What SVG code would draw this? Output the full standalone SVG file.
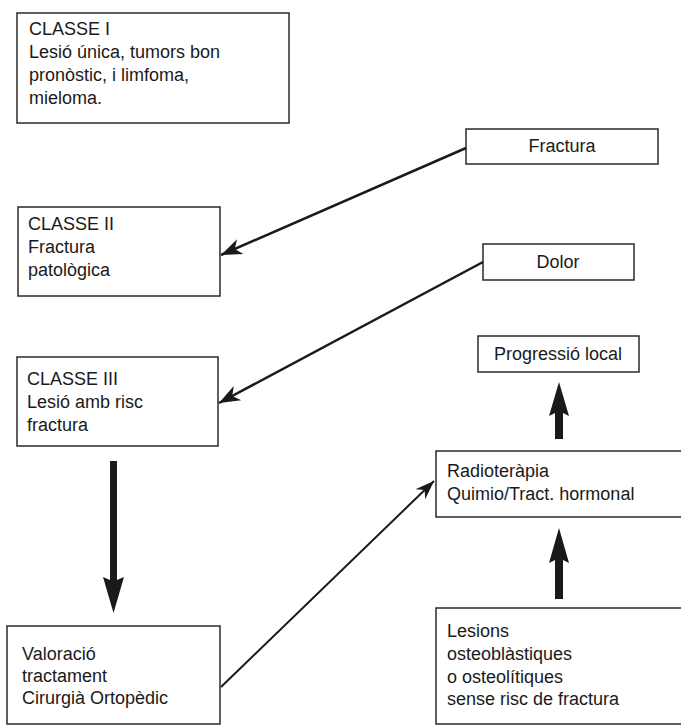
<svg xmlns="http://www.w3.org/2000/svg" width="681" height="726" viewBox="0 0 681 726">
<defs>
<style>
.box{fill:#fff;stroke:#2a2a2a;stroke-width:1.5}
.t{font-family:"Liberation Sans",Arial,sans-serif;font-size:18px;fill:#1a1a1a}
.c{text-anchor:middle}
.ln{stroke:#1a1a1a;stroke-width:2.5;fill:none}
.thin{stroke:#1a1a1a;stroke-width:2;fill:none}
.fat{fill:#1a1a1a}
</style>
<marker id="barb" markerUnits="userSpaceOnUse" viewBox="-22 -9 24 18" refX="0" refY="0" markerWidth="24" markerHeight="18" orient="auto">
<path d="M0,0 L-21,-8 L-15,0 L-21,8 Z" fill="#1a1a1a"/>
</marker>
<marker id="barbS" markerUnits="userSpaceOnUse" viewBox="-20 -8 22 16" refX="0" refY="0" markerWidth="22" markerHeight="16" orient="auto">
<path d="M0,0 L-19,-7 L-13,0 L-19,7 Z" fill="#1a1a1a"/>
</marker>
</defs>
<rect width="681" height="726" fill="#fff"/>

<g id="classe1">
<rect class="box" x="17" y="13" width="272" height="110"/>
<text class="t" x="29" y="35">CLASSE I</text>
<text class="t" x="29" y="58">Lesió única, tumors bon</text>
<text class="t" x="29" y="81">pronòstic, i limfoma,</text>
<text class="t" x="29" y="104">mieloma.</text>
</g>

<g id="fractura">
<rect class="box" x="466" y="129" width="192" height="35"/>
<text class="t c" x="562" y="152">Fractura</text>
</g>

<g id="classe2">
<rect class="box" x="18" y="207" width="202" height="89"/>
<text class="t" x="28" y="230">CLASSE II</text>
<text class="t" x="28" y="253">Fractura</text>
<text class="t" x="28" y="276">patològica</text>
</g>

<g id="dolor">
<rect class="box" x="483" y="244" width="151" height="36"/>
<text class="t c" x="558" y="268">Dolor</text>
</g>

<g id="progressio">
<rect class="box" x="478" y="336" width="161" height="36"/>
<text class="t c" x="558" y="360">Progressió local</text>
</g>

<g id="classe3">
<rect class="box" x="17" y="357" width="201" height="89"/>
<text class="t" x="27" y="385">CLASSE III</text>
<text class="t" x="27" y="408">Lesió amb risc</text>
<text class="t" x="27" y="431">fractura</text>
</g>

<g id="radio">
<rect class="box" x="436" y="451" width="260" height="66"/>
<text class="t" x="447" y="477">Radioteràpia</text>
<text class="t" x="447" y="500">Quimio/Tract. hormonal</text>
</g>

<g id="valoracio">
<rect class="box" x="7" y="626" width="213" height="98"/>
<text class="t" x="22" y="660">Valoració</text>
<text class="t" x="22" y="682">tractament</text>
<text class="t" x="22" y="704">Cirurgià Ortopèdic</text>
</g>

<g id="lesions">
<rect class="box" x="436" y="608" width="260" height="116"/>
<text class="t" x="447" y="637">Lesions</text>
<text class="t" x="447" y="660">osteoblàstiques</text>
<text class="t" x="447" y="683">o osteolítiques</text>
<text class="t" x="447" y="705">sense risc de fractura</text>
</g>

<g id="connectors">
<line class="ln" x1="466" y1="148" x2="221" y2="255" marker-end="url(#barb)"/>
<line class="ln" x1="483" y1="262" x2="219" y2="403" marker-end="url(#barb)"/>
<line class="thin" x1="221" y1="687" x2="434" y2="481" marker-end="url(#barbS)"/>
<path class="fat" d="M110,461 H117 V580 L124,577 L113.5,613 L103,577 L110,580 Z"/>
<path class="fat" d="M555,439 V413 L549,416 L559,382 L569,416 L563,413 V439 Z"/>
<path class="fat" d="M555,599 V560 L549,563 L559,528 L569,563 L563,560 V599 Z"/>
</g>
</svg>
